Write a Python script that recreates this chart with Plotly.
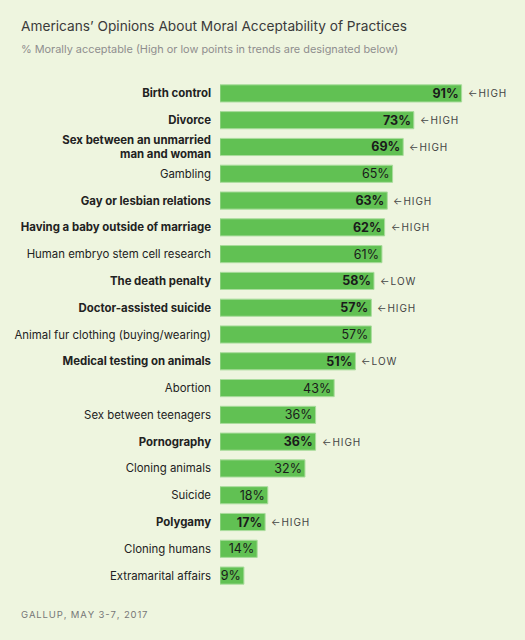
import plotly.graph_objects as go

categories = [
    "Birth control", "Divorce", "Sex between an unmarried<br>man and woman", "Gambling",
    "Gay or lesbian relations", "Having a baby outside of marriage",
    "Human embryo stem cell research", "The death penalty", "Doctor-assisted suicide",
    "Animal fur clothing (buying/wearing)", "Medical testing on animals", "Abortion",
    "Sex between teenagers", "Pornography", "Cloning animals", "Suicide", "Polygamy",
    "Cloning humans", "Extramarital affairs",
]
values = [91, 73, 69, 65, 63, 62, 61, 58, 57, 57, 51, 43, 36, 36, 32, 18, 17, 14, 9]
trend_marks = ["HIGH", "HIGH", "HIGH", "", "HIGH", "HIGH", "", "LOW", "HIGH", "",
               "LOW", "", "", "HIGH", "", "", "HIGH", "", ""]

FONT = "Inter"
BG = "#EEF5DF"
BAR = "#61C153"

def spaced(s, sep="\u200a"):
    return sep.join(s)

ids = list(range(len(categories)))
ticktext = [f"<b>{c}</b>" if m else c for c, m in zip(categories, trend_marks)]
bartext = [f"<b>{v}%</b>" if m else f"{v}%" for v, m in zip(values, trend_marks)]

fig = go.Figure()
fig.add_trace(go.Bar(
    x=values, y=ids, orientation="h",
    marker=dict(color=BAR, line=dict(color="#A9DC9C", width=1)),
    text=bartext, textposition="inside", insidetextanchor="end",
    constraintext="none",
    textfont=dict(family=FONT, size=12.5, color="#1a1a1a"),
    hoverinfo="skip",
))

for i, (v, m) in enumerate(zip(values, trend_marks)):
    if m:
        fig.add_annotation(
            x=v, y=i, xref="x", yref="y", xanchor="left", yanchor="middle",
            xshift=4, showarrow=False,
            text="\u2190\u200a" + spaced(m),
            font=dict(family=FONT, size=10, color="#444444"),
        )

W, H = 525, 640
ML, MR, MT, MB = 220, 0, 80, 51
pw, ph = W - ML - MR, H - MT - MB

def px_to_paper(px, py):
    return (px - ML) / pw, 1 - (py - MT) / ph

for (px, py, txt, size, col) in [
    (19, 26, "Americans\u2019 Opinions About Moral Acceptability of Practices", 13.7, "#3a3a3a"),
    (19, 49, "% Morally acceptable (High or low points in trends are designated below)", 10.9, "#8e8e8e"),
    (19, 614, spaced("GALLUP, MAY 3-7, 2017"), 9.5, "#777777"),
]:
    x, y = px_to_paper(px, py)
    fig.add_annotation(x=x, y=y, xref="paper", yref="paper", xanchor="left",
                       yanchor="middle", showarrow=False, text=txt,
                       font=dict(family=FONT, size=size, color=col))

fig.update_layout(
    width=W, height=H,
    margin=dict(l=ML, r=MR, t=MT, b=MB),
    paper_bgcolor=BG, plot_bgcolor=BG,
    showlegend=False, bargap=0.36,
    xaxis=dict(range=[0, pw / 2.655], visible=False, fixedrange=True),
    yaxis=dict(
        tickmode="array", tickvals=ids, ticktext=ticktext,
        range=[len(ids) - 0.5, -0.5], showgrid=False, zeroline=False,
        showline=False, ticks="", ticklabelstandoff=8,
        tickfont=dict(family=FONT, size=11.4, color="#222222"),
        fixedrange=True,
    ),
)

fig.write_html("out.html", config={"displayModeBar": False},
               post_script="document.body.style.margin='0';document.body.style.background='" + BG + "';")
